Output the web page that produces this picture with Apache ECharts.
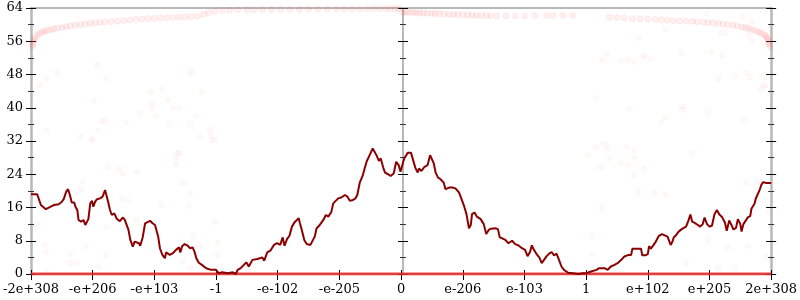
<!DOCTYPE html>
<html><head><meta charset="utf-8">
<script src="https://cdn.jsdelivr.net/npm/echarts@6/dist/echarts.min.js"></script>
<style>html,body{margin:0;padding:0;background:#fff}#c{width:800px;height:300px}</style>
</head><body><div id="c"></div>
<script>
var xTickLabels = ['-2e+308','-e+206','-e+103','-1','-e-102','-e-205','0','e-206','e-103','1','e+102','e+205','2e+308'];
var yTicks = {min: 0, max: 64, step: 8};

var lineX = [-6.00,-5.90,-5.84,-5.76,-5.68,-5.63,-5.55,-5.50,-5.47,-5.43,-5.40,-5.37,-5.34,-5.30,-5.28,-5.25,-5.23,-5.19,-5.15,-5.12,-5.09,-5.07,-5.04,-5.01,-4.99,-4.96,-4.93,-4.88,-4.84,-4.80,-4.77,-4.75,-4.72,-4.69,-4.65,-4.61,-4.56,-4.51,-4.48,-4.45,-4.42,-4.39,-4.35,-4.32,-4.29,-4.25,-4.23,-4.19,-4.15,-4.12,-4.07,-4.03,-3.99,-3.97,-3.94,-3.91,-3.87,-3.83,-3.81,-3.75,-3.70,-3.65,-3.60,-3.58,-3.55,-3.51,-3.46,-3.42,-3.38,-3.35,-3.32,-3.28,-3.23,
-3.16,-3.08,-3.00,-2.96,-2.90,-2.81,-2.73,-2.68,-2.65,-2.60,-2.55,-2.51,-2.47,-2.41,-2.33,-2.25,-2.22,-2.17,-2.12,-2.06,-2.01,-1.96,-1.92,-1.89,-1.85,-1.81,-1.77,-1.72,-1.66,-1.64,-1.61,-1.57,-1.53,-1.47,-1.44,-1.40,-1.37,-1.33,-1.30,-1.26,-1.22,-1.18,-1.13,-1.10,-1.07,-1.02,-0.97,-0.91,-0.87,-0.83,-0.78,-0.74,-0.71,-0.67,-0.62,-0.56,-0.51,-0.46,-0.43,-0.40,-0.36,-0.33,-0.29,-0.26,-0.21,-0.17,-0.12,-0.08,-0.04,-0.01,
0.05,0.11,0.16,0.19,0.23,0.27,0.29,0.33,0.38,0.43,0.47,0.49,0.53,0.56,0.60,0.64,0.69,0.72,0.78,0.83,0.88,0.94,0.98,1.02,1.06,1.10,1.13,1.15,1.19,1.23,1.29,1.34,1.38,1.42,1.46,1.49,1.53,1.57,1.60,1.64,1.69,1.74,1.80,1.85,1.90,1.96,2.01,2.05,2.09,2.12,2.14,2.17,2.20,2.24,2.28,2.31,2.36,2.40,2.44,2.48,2.52,2.56,2.60,2.64,2.71,2.79,2.87,2.95,3.00,3.08,3.17,3.21,
3.30,3.35,3.40,3.46,3.51,3.57,3.62,3.65,3.69,3.73,3.75,3.82,3.89,3.91,3.96,4.00,4.02,4.05,4.08,4.13,4.18,4.23,4.26,4.32,4.34,4.37,4.40,4.42,4.46,4.50,4.55,4.58,4.62,4.66,4.69,4.72,4.76,4.80,4.83,4.85,4.89,4.92,4.96,5.00,5.04,5.08,5.12,5.16,5.20,5.25,5.28,5.32,5.35,5.39,5.43,5.46,5.50,5.52,5.55,5.59,5.62,5.66,5.68,5.73,5.75,5.78,5.82,5.84,5.87,5.92,6.00];
var lineY = [19.2,19.2,16.6,15.6,16.2,16.6,16.8,17.4,18.0,19.8,20.4,19.0,17.2,17.2,16.2,15.4,13.0,12.6,13.0,11.8,12.2,13.2,17.0,17.6,16.2,17.4,18.0,18.2,18.6,20.2,19.8,17.4,15.4,14.2,14.6,13.3,12.7,13.6,13.0,11.8,10.6,8.2,6.6,7.8,8.2,7.4,6.8,8.8,12.2,12.6,12.8,12.2,11.8,11.4,9.1,6.2,4.6,3.8,5.2,4.6,5.0,5.8,6.4,5.2,6.7,7.2,6.8,6.2,6.4,5.4,3.8,2.7,2.2,
1.4,1.0,1.0,0.2,0.4,0.2,0.4,0.0,1.0,1.4,2.2,2.8,1.8,3.4,3.6,4.0,3.2,5.2,5.6,7.0,7.4,7.0,8.8,6.8,8.4,9.2,11.4,12.6,13.4,12.2,10.6,8.2,7.2,7.0,6.8,9.0,11.0,11.6,11.4,13.0,14.2,13.8,15.0,17.0,17.4,18.2,18.4,19.0,18.6,17.6,17.8,18.2,19.0,22.0,23.8,27.0,28.6,30.2,30.6,28.6,27.2,27.8,25.6,24.4,24.0,23.6,24.2,27.0,26.2,24.6,
27.8,29.2,29.2,29.4,25.6,24.4,25.4,24.8,25.8,26.2,28.6,28.8,26.6,24.4,23.2,22.8,22.0,20.4,20.8,20.8,20.6,19.6,18.0,16.4,14.4,11.0,11.8,14.4,14.8,13.8,13.2,12.0,9.6,10.6,10.9,10.6,11.0,10.8,8.8,8.6,8.2,7.4,8.0,7.2,6.9,6.2,5.8,4.3,5.3,6.9,6.2,5.8,4.7,4.0,2.6,3.0,4.3,4.9,5.3,4.5,4.9,3.4,1.8,1.0,0.3,0.2,0.0,0.2,0.2,0.6,1.0,1.4,
1.4,1.0,1.8,2.2,2.6,3.4,4.2,3.8,4.6,4.6,6.1,6.1,6.1,4.5,4.5,4.8,6.7,6.1,6.7,7.8,9.2,9.6,9.2,9.0,8.6,7.0,7.8,8.8,9.4,10.2,10.8,10.4,11.4,12.9,14.3,12.6,12.3,11.9,12.1,11.4,12.0,13.6,12.0,11.4,11.6,14.3,15.4,14.3,13.8,12.4,10.4,12.9,13.2,10.7,11.1,13.2,12.0,10.2,12.0,12.9,13.6,13.9,15.7,16.9,18.1,18.5,20.5,21.4,22.1,21.9,21.9];

var topX = [-5.98,-5.97,-5.96,-5.95,-5.93,-5.90,-5.86,-5.82,-5.78,-5.73,-5.68,-5.63,-5.57,-5.50,-5.43,-5.36,-5.28,-5.20,-5.12,-5.04,-4.96,-4.88,-4.80,-4.70,-4.60,-4.50,-4.40,-4.30,-4.20,-4.10,-4.00,-3.90,-3.80,-3.70,-3.60,-3.50,-3.40,-3.30,-3.20,-3.12,-3.02,-2.90,-2.78,-2.65,-2.50,-2.38,-2.25,-2.10,-1.95,-1.80,-1.65,-1.50,-1.35,-1.20,-1.05,-0.92,-0.80,-0.68,-0.56,-0.45,-0.35,-0.26,-0.18,-0.10,-0.04,
0.02,0.06,0.10,0.15,0.20,0.25,0.30,0.36,0.42,0.50,0.55,0.62,0.70,0.78,0.85,0.92,1.00,1.08,1.15,1.22,1.30,1.38,1.45,1.55,1.70,1.85,2.00,2.17,2.36,2.46,2.62,2.78,
3.38,3.50,3.62,3.75,3.88,4.00,4.12,4.22,4.32,4.42,4.52,4.62,4.72,4.80,4.90,4.98,5.06,5.14,5.22,5.30,5.38,5.45,5.52,5.58,5.63,5.68,5.73,5.78,5.82,5.86,5.90,5.92,5.94,5.95,5.96,5.97,5.98];
var topY = [54.7,55.3,55.9,56.4,56.9,57.5,57.9,58.2,58.4,58.6,58.8,58.95,59.15,59.3,59.5,59.65,59.85,60.0,60.15,60.3,60.4,60.5,60.6,60.75,60.85,61.0,61.1,61.25,61.35,61.45,61.5,61.6,61.65,61.75,61.8,61.85,61.9,62.0,62.5,62.9,63.2,63.4,63.5,63.55,63.6,63.6,63.65,63.65,63.7,63.7,63.7,63.75,63.75,63.75,63.8,63.8,63.8,63.8,63.8,63.85,63.85,63.85,63.85,63.85,63.85,
63.0,63.0,62.95,62.9,62.9,62.85,62.8,62.8,62.75,62.7,62.65,62.6,62.55,62.5,62.45,62.4,62.35,62.3,62.25,62.2,62.2,62.15,62.1,62.1,62.1,62.1,62.1,62.2,62.2,62.2,62.2,62.2,
61.8,61.7,61.6,61.5,61.4,61.3,61.25,61.15,61.05,60.95,60.9,60.8,60.75,60.7,60.6,60.5,60.4,60.25,60.1,60.0,59.85,59.65,59.45,59.25,59.1,58.85,58.6,58.35,58.1,57.8,57.5,57.1,56.7,56.3,55.8,55.3,54.7];

var baseX = [-6, 6];
var baseY = [0, 0];

var scatX = [-5.98,-4.93,-5.87,-5.76,-5.57,-4.78,-4.98,-5.74,-5.20,-5.01,-4.91,-4.85,-4.80,-4.46,-4.24,-4.06,-3.87,-3.78,-4.04,-4.05,-3.98,-3.69,-3.59,-3.77,-3.42,-3.43,-3.39,-3.23,-3.33,-3.11,-3.08,-3.07,-3.26,-3.62,-3.65,
-5.02,-5.16,-5.19,-4.76,-4.58,-4.52,-4.29,-4.53,-4.42,-4.29,-3.89,-3.65,-3.60,-3.54,-3.42,-3.44,-3.38,-3.27,-3.41,-3.55,-5.90,-5.77,-5.76,-5.37,-5.36,-5.26,-5.11,-4.91,-4.78,-4.78,-5.74,-3.02,-2.97,-2.97,-3.02,
3.16,3.24,3.26,3.10,3.10,3.03,3.27,3.34,3.57,3.78,3.94,3.66,3.78,3.39,3.68,3.78,4.11,4.29,3.84,5.60,5.79,5.97,3.33,4.78,5.26,5.29,4.98,5.63,5.91,
5.14,5.42,4.62,4.71,4.95,5.53,5.19,5.26,5.63,5.69,5.03,4.54,3.91,3.95,4.04,3.68,3.33,3.26,3.56,3.79,5.21,5.60,5.42,5.91,5.14,5.66,5.87,5.91,5.84,3.16,
5.69,4.29,3.85,3.70,4.55,4.58,4.96,4.29,5.55,4.22];
var scatY = [50.7,50.3,45.5,47.1,48.5,47.1,41.7,34.5,33.0,32.5,34.5,36.9,36.7,36.5,38.7,43.9,44.4,41.9,41.1,39.9,38.1,40.0,40.0,35.9,35.9,48.3,48.8,43.9,38.1,34.8,33.4,32.2,32.9,29.2,28.1,
32.2,22.2,20.4,25.7,25.5,24.3,24.5,18.0,17.6,12.8,16.6,26.5,29.1,21.9,19.5,16.4,8.9,6.7,1.4,2.9,12.0,7.0,5.3,4.8,2.6,2.6,6.7,1.7,11.3,4.6,0.5,12.5,7.5,4.6,32.2,
30.6,25.7,15.9,8.9,4.6,28.6,31.5,29.8,26.7,27.9,25.3,30.6,29.8,27.9,26.2,23.8,19.5,19.0,19.7,21.9,22.1,14.9,31.0,11.3,14.2,6.5,8.2,6.7,4.1,1.7,1.7,2.6,29.1,
62.7,62.1,58.0,58.1,57.5,56.3,53.5,53.2,52.2,52.7,51.7,51.5,52.9,51.5,51.3,51.0,52.5,48.4,47.5,47.3,46.9,47.4,45.2,45.5,44.3,42.3,60.7,58.9,56.8,39.7,
39.5,40.3,39.0,37.8,37.1,36.5,38.1,34.6,32.5,31.6];

function pairs(xs, ys){ var o=[]; for(var i=0;i<xs.length;i++) o.push([xs[i], ys[i]]); return o; }

var chart = echarts.init(document.getElementById('c'), null, {renderer:'canvas'});
var fontFam = "'DejaVu Serif', serif";
var greyAxis = '#b8b8b8';
function yAx(position, offset, inside, showLine, showLabel, lw){
  return {type:'value', position:position, offset:offset, min:yTicks.min, max:yTicks.max, interval:yTicks.step,
    splitLine:{show:false},
    axisLine:{show:showLine, onZero:false, lineStyle:{color:greyAxis, width:lw || 2.5}},
    axisTick:{show:true, inside:inside, length:5, lineStyle:{color:'#000', width:1}},
    minorTick:{show:true, splitNumber:2, length:3, lineStyle:{color:'#333', width:1}},
    minorSplitLine:{show:false},
    axisLabel:{show:showLabel, margin:8, color:'#000', fontFamily:fontFam, fontSize:13}};
}
var option = {
  animation:false,
  backgroundColor:'#fff',
  grid:{left:28, right:26, top:8, bottom:26, containLabel:false},
  xAxis:[
    {type:'value', position:'bottom', min:-6, max:6, interval:1, splitLine:{show:false},
     axisLine:{show:true, onZero:false, lineStyle:{color:greyAxis, width:2}},
     axisTick:{show:true, length:6, lineStyle:{color:'#000', width:1}},
     axisLabel:{show:true, margin:9, color:'#000', fontFamily:fontFam, fontSize:13,
       formatter:function(v){ return xTickLabels[Math.round(v)+6]; }}},
    {type:'value', position:'bottom', min:-6, max:6, interval:1, splitLine:{show:false},
     axisLine:{show:false, onZero:false},
     axisTick:{show:true, inside:true, length:4, lineStyle:{color:'#000', width:1}},
     axisLabel:{show:false}},
    {type:'value', position:'top', min:-6, max:6, interval:1, splitLine:{show:false},
     axisLine:{show:true, onZero:false, lineStyle:{color:greyAxis, width:2}},
     axisTick:{show:false}, axisLabel:{show:false}}
  ],
  yAxis:[
    yAx('left', 0, false, true, true, 2.5),
    yAx('left', 0, true, false, false),
    yAx('right', 0, false, true, false, 2.5),
    yAx('right', 0, true, false, false),
    yAx('left', -372, false, true, false, 2),
    yAx('left', -372, true, false, false)
  ],
  series:[
    {type:'scatter', data:pairs(scatX, scatY), symbol:'circle', symbolSize:5, silent:true,
     itemStyle:{color:'rgba(255,170,170,0.07)', borderColor:'rgba(255,100,100,0.07)', borderWidth:1}, z:2},
    {type:'scatter', data:pairs(topX, topY), symbol:'circle', symbolSize:6, silent:true,
     itemStyle:{color:'rgba(255,90,90,0.10)', borderColor:'rgba(255,60,60,0.10)', borderWidth:1}, z:2},
    {type:'line', data:pairs(baseX, baseY), symbol:'none', silent:true,
     lineStyle:{color:'rgba(232,40,40,0.85)', width:3}, z:3},
    {type:'line', data:pairs(lineX, lineY), symbol:'none', silent:true,
     lineStyle:{color:'#8b0000', width:2}, z:4}
  ]
};
chart.setOption(option);
</script></body></html>
